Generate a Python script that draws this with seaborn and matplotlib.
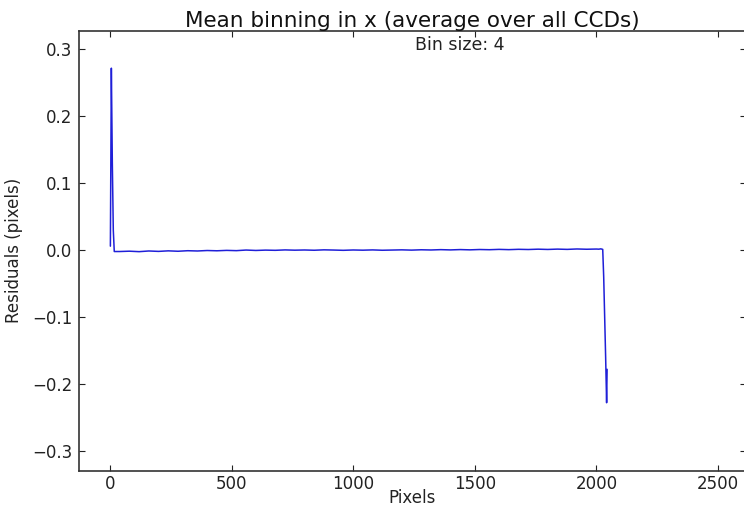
import numpy as np
import pandas as pd
import matplotlib
matplotlib.use("Agg")
import matplotlib.pyplot as plt
import seaborn as sns

# Bin centres (pixels) and mean residuals, bin size 4
edge_left_x = [2, 6, 10, 14, 18]
edge_left_y = [0.006, 0.272, 0.130, 0.030, -0.002]

flat_x = list(range(40, 2001, 40))
flat_y = [
    -0.0020, -0.0015, -0.0022, -0.0012, -0.0018, -0.0010, -0.0016, -0.0008, -0.0012, -0.0005,
    -0.0009, -0.0003, -0.0007, 0.0002, -0.0004, 0.0001, -0.0002, 0.0004, 0.0000, 0.0003,
    -0.0001, 0.0005, 0.0002, -0.0002, 0.0003, 0.0000, 0.0004, -0.0001, 0.0002, 0.0005,
    0.0001, 0.0006, 0.0003, 0.0008, 0.0004, 0.0009, 0.0005, 0.0010, 0.0007, 0.0012,
    0.0008, 0.0013, 0.0010, 0.0015, 0.0011, 0.0016, 0.0012, 0.0018, 0.0014, 0.0017,
]

edge_right_x = [2010, 2018, 2026, 2030, 2034, 2038, 2042, 2044]
edge_right_y = [0.0015, 0.0020, 0.0012, -0.040, -0.100, -0.160, -0.228, -0.178]

pixels = edge_left_x + flat_x + edge_right_x
residuals = edge_left_y + flat_y + edge_right_y

title = "Mean binning in x (average over all CCDs)"
bin_label = "Bin size: 4"
x_ticks = [0, 500, 1000, 1500, 2000, 2500]
y_ticks = [-0.3, -0.2, -0.1, 0.0, 0.1, 0.2, 0.3]

sns.set_style("ticks")
plt.rcParams.update({
    "font.family": ["DejaVu Sans"],
    "font.size": 12,
    "xtick.direction": "in",
    "ytick.direction": "in",
    "xtick.top": True,
    "ytick.right": True,
    "xtick.major.size": 4,
    "ytick.major.size": 4,
    "xtick.major.width": 0.8,
    "ytick.major.width": 0.8,
    "xtick.labelsize": 12,
    "ytick.labelsize": 12,
    "xtick.color": "#222222",
    "ytick.color": "#222222",
    "axes.edgecolor": "#333333",
    "axes.linewidth": 1.2,
    "xtick.major.pad": 3,
    "ytick.major.pad": 5,
})

df = pd.DataFrame({"Pixels": pixels, "Residuals": residuals})

fig = plt.figure(figsize=(7.44, 5.08), dpi=100)
W, H = 744, 508
ax = fig.add_axes([79 / W, (H - 471) / H, (746 - 79) / W, (471 - 30.7) / H])

sns.lineplot(data=df, x="Pixels", y="Residuals", ax=ax, sort=False,
             estimator=None, color="#1f1fd8", linewidth=1.1)

ax.set_xlim(-127, 2615)
ax.set_ylim(-0.33, 0.328)
ax.set_xticks(x_ticks)
ax.set_yticks(y_ticks)
ax.set_yticklabels([f"{v:.1f}".replace("-", "\u2212") for v in y_ticks])
ax.set_xlabel("Pixels", fontsize=12, labelpad=-3, color="#222222")
ax.set_ylabel("Residuals (pixels)", fontsize=12, labelpad=6, color="#222222")
ax.set_title(title, fontsize=15.5, pad=1.5, color="#111111")
ax.text(0.571, 0.967, bin_label, transform=ax.transAxes, ha="center",
        va="center", fontsize=12.5, color="#222222")

fig.savefig("out.png", dpi=100)
